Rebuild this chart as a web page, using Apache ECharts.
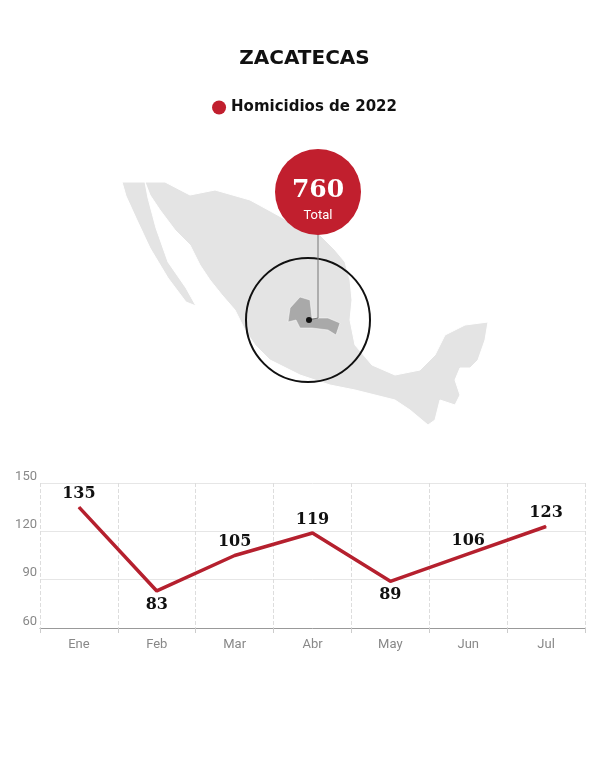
<!DOCTYPE html>
<html><head><meta charset="utf-8">
<script src="https://cdn.jsdelivr.net/npm/echarts@6/dist/echarts.min.js"></script>
<style>html,body{margin:0;padding:0;background:#fff}#c{width:609px;height:760px}</style>
</head><body><div id="c"></div>
<script>
const months = ['Ene','Feb','Mar','Abr','May','Jun','Jul'];
const homicidios = [135,83,105,119,89,106,123];
const labelBelow = [false,true,false,false,true,false,false];
const total = 760;
const yTicks = [60,90,120,150];

const mexico = [[145,182],[165,182],[190,195],[215,190],[250,200],[272,212],[290,222],[305,224],[320,235],[335,250],[345,262],[350,280],[352,300],[350,320],[355,345],[372,365],[395,375],[420,370],[435,355],[445,335],[465,325],[488,322],[485,340],[478,360],[470,368],[460,368],[455,380],[460,395],[455,405],[440,400],[435,420],[428,425],[410,410],[395,400],[375,395],[355,390],[330,385],[300,375],[270,360],[255,345],[245,330],[235,310],[222,295],[210,280],[200,265],[190,245],[175,230],[160,210],[150,195]];
const baja = [[122,182],[145,182],[148,198],[156,228],[168,262],[186,288],[196,306],[186,302],[168,278],[150,248],[136,218],[126,196]];
const zac = [[300,297],[310,300],[312,318],[328,318],[340,323],[336,335],[328,330],[312,328],[300,328],[296,320],[288,322],[290,308]];

const seriesData = homicidios.map((v,i)=>labelBelow[i]?{value:v,label:{position:'bottom'}}:{value:v});

const chart = echarts.init(document.getElementById('c'));
chart.setOption({
  animation:false,
  title:{text:'ZACATECAS',left:'center',top:44,textStyle:{fontFamily:'DejaVu Sans',fontWeight:'bold',fontSize:20,color:'#111'}},
  legend:{top:95,left:'center',data:['Homicidios de 2022'],icon:'circle',itemWidth:14,itemHeight:14,
    textStyle:{fontFamily:'DejaVu Sans',fontWeight:'bold',fontSize:15,color:'#111'}},
  graphic:[
    {type:'polygon',shape:{points:mexico},style:{fill:'#e4e4e4',stroke:'#fff',lineWidth:1}},
    {type:'polygon',shape:{points:baja},style:{fill:'#e4e4e4',stroke:'#fff',lineWidth:1}},
    {type:'polygon',shape:{points:zac},style:{fill:'#a9a9a9',stroke:'#fff',lineWidth:0.5}},
    {type:'circle',shape:{cx:308,cy:320,r:62},style:{fill:'none',stroke:'#111',lineWidth:2}},
    {type:'polyline',shape:{points:[[318,234],[318,318],[309,320]]},style:{stroke:'#777',lineWidth:1}},
    {type:'circle',shape:{cx:309,cy:320,r:3},style:{fill:'#111'}},
    {type:'circle',shape:{cx:318,cy:192,r:43},style:{fill:'#c11f2e'}},
    {type:'text',style:{text:String(total),x:318,y:203,align:'center',verticalAlign:'bottom',fill:'#fff',font:'bold 25px "DejaVu Serif"'}},
    {type:'text',style:{text:'Total',x:318,y:216,align:'center',verticalAlign:'middle',fill:'#fff',font:'13px Roboto'}}
  ],
  grid:{left:40,right:24,top:483,bottom:132},
  xAxis:{type:'category',data:months,boundaryGap:true,
    axisLine:{lineStyle:{color:'#999'}},axisTick:{show:true,lineStyle:{color:'#ccc'}},
    axisLabel:{color:'#888',fontSize:13,fontFamily:'Roboto',margin:10},
    splitLine:{show:true,lineStyle:{color:'#ddd',type:'dashed'}}},
  yAxis:{type:'value',min:60,max:150,interval:30,
    axisLine:{show:false},axisTick:{show:false},
    axisLabel:{color:'#888',fontSize:13,fontFamily:'Roboto',verticalAlign:'bottom',margin:3,
      formatter:v=>yTicks.includes(v)?String(v):''},
    splitLine:{lineStyle:{color:'#e6e6e6'}}},
  series:[{name:'Homicidios de 2022',type:'line',data:seriesData,color:'#c11f2e',
    lineStyle:{width:3.5,color:'#b5202e'},symbol:'circle',symbolSize:1,showSymbol:true,
    label:{show:true,position:'top',distance:5,color:'#111',fontFamily:'DejaVu Serif',fontWeight:'bold',fontSize:16},
    emphasis:{disabled:true}}]
});
</script></body></html>
